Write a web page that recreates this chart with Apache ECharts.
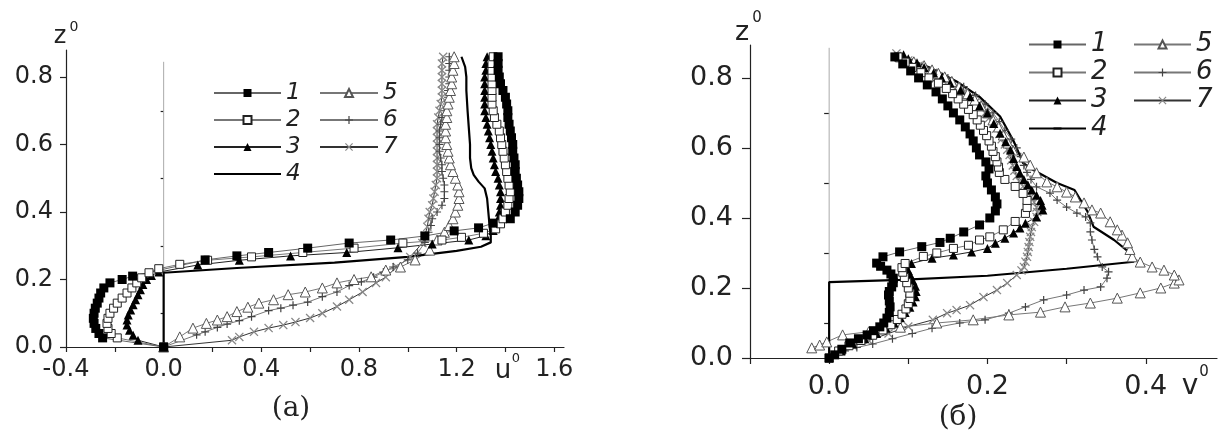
<!DOCTYPE html>
<html>
<head>
<meta charset="utf-8">
<script src="https://cdn.jsdelivr.net/npm/echarts@6.0.0/dist/echarts.min.js"></script>
<style>
html,body{margin:0;padding:0;background:#fff;}
#chart{width:1219px;height:437px;}
</style>
</head>
<body>
<div id="chart"></div>
<script>
/* панель (а): точки [u0, z0] */
var a1 = [[0,0],[-0.25,0.027],[-0.265,0.04],[-0.278,0.055],[-0.285,0.07],[-0.288,0.085],[-0.285,0.10],[-0.28,0.115],[-0.272,0.13],[-0.265,0.145],[-0.258,0.16],[-0.245,0.175],[-0.22,0.19],[-0.17,0.20],[-0.127,0.21],[0.17,0.258],[0.30,0.27],[0.43,0.28],[0.59,0.293],[0.76,0.308],[0.93,0.317],[1.07,0.329],[1.19,0.344],[1.29,0.353],[1.35,0.367],[1.42,0.38],[1.44,0.40],[1.45,0.42],[1.455,0.44],[1.455,0.46],[1.45,0.48],[1.445,0.50],[1.44,0.52],[1.44,0.54],[1.435,0.56],[1.43,0.58],[1.43,0.60],[1.425,0.62],[1.42,0.64],[1.415,0.66],[1.41,0.68],[1.41,0.70],[1.405,0.72],[1.40,0.74],[1.39,0.76],[1.38,0.78],[1.375,0.80],[1.37,0.82],[1.37,0.84],[1.37,0.86]];
var a2 = [[0,0],[-0.19,0.027],[-0.215,0.04],[-0.228,0.055],[-0.232,0.07],[-0.228,0.085],[-0.22,0.10],[-0.205,0.115],[-0.19,0.13],[-0.17,0.145],[-0.15,0.16],[-0.13,0.175],[-0.11,0.19],[-0.09,0.205],[-0.06,0.22],[-0.02,0.232],[0.066,0.245],[0.18,0.257],[0.36,0.267],[0.57,0.28],[0.78,0.293],[0.98,0.308],[1.14,0.317],[1.22,0.325],[1.31,0.337],[1.36,0.35],[1.38,0.365],[1.39,0.38],[1.40,0.40],[1.41,0.42],[1.415,0.44],[1.42,0.46],[1.415,0.48],[1.41,0.50],[1.405,0.52],[1.40,0.54],[1.395,0.56],[1.39,0.58],[1.385,0.60],[1.38,0.62],[1.375,0.64],[1.365,0.66],[1.355,0.68],[1.35,0.70],[1.345,0.72],[1.345,0.74],[1.345,0.76],[1.345,0.78],[1.345,0.80],[1.345,0.82],[1.345,0.84],[1.35,0.86]];
var a3 = [[0,0],[-0.105,0.02],[-0.125,0.035],[-0.14,0.05],[-0.15,0.065],[-0.15,0.08],[-0.145,0.095],[-0.135,0.11],[-0.125,0.125],[-0.115,0.14],[-0.105,0.155],[-0.095,0.17],[-0.085,0.185],[-0.07,0.20],[-0.05,0.212],[-0.02,0.222],[0.14,0.243],[0.31,0.257],[0.52,0.27],[0.75,0.28],[0.96,0.294],[1.10,0.305],[1.25,0.317],[1.32,0.33],[1.35,0.345],[1.36,0.36],[1.37,0.38],[1.375,0.40],[1.38,0.42],[1.38,0.44],[1.38,0.46],[1.375,0.48],[1.37,0.50],[1.36,0.52],[1.355,0.54],[1.35,0.56],[1.345,0.58],[1.34,0.60],[1.335,0.62],[1.33,0.64],[1.325,0.66],[1.32,0.68],[1.315,0.70],[1.315,0.72],[1.315,0.74],[1.315,0.76],[1.315,0.78],[1.315,0.80],[1.32,0.82],[1.32,0.84],[1.325,0.86]];
var a4 = [[0,0],[0,0.22],[0.3,0.234],[0.7,0.25],[1.0,0.267],[1.2,0.285],[1.3,0.297],[1.34,0.31],[1.34,0.33],[1.335,0.36],[1.33,0.40],[1.325,0.44],[1.315,0.47],[1.29,0.49],[1.27,0.51],[1.26,0.53],[1.255,0.56],[1.255,0.60],[1.25,0.65],[1.245,0.70],[1.24,0.76],[1.24,0.80],[1.235,0.83],[1.22,0.86]];
var a5 = [[0,0],[0.066,0.03],[0.12,0.056],[0.175,0.07],[0.22,0.08],[0.26,0.09],[0.30,0.105],[0.345,0.118],[0.39,0.13],[0.45,0.14],[0.51,0.155],[0.58,0.163],[0.65,0.175],[0.71,0.19],[0.78,0.20],[0.85,0.208],[0.91,0.228],[0.97,0.237],[1.03,0.258],[1.09,0.287],[1.12,0.317],[1.15,0.34],[1.17,0.36],[1.185,0.38],[1.195,0.40],[1.205,0.42],[1.21,0.44],[1.21,0.46],[1.205,0.48],[1.195,0.50],[1.185,0.52],[1.175,0.54],[1.17,0.56],[1.165,0.58],[1.16,0.60],[1.155,0.62],[1.155,0.64],[1.155,0.66],[1.16,0.68],[1.16,0.70],[1.165,0.72],[1.17,0.74],[1.175,0.76],[1.18,0.78],[1.18,0.80],[1.185,0.82],[1.19,0.84],[1.19,0.86]];
var a6 = [[0,0],[0.135,0.036],[0.17,0.045],[0.22,0.058],[0.26,0.068],[0.31,0.078],[0.36,0.09],[0.43,0.108],[0.48,0.115],[0.53,0.124],[0.59,0.133],[0.65,0.149],[0.71,0.163],[0.76,0.182],[0.81,0.193],[0.86,0.207],[0.90,0.222],[0.94,0.237],[1.0,0.258],[1.04,0.278],[1.07,0.31],[1.085,0.34],[1.095,0.36],[1.10,0.38],[1.12,0.40],[1.14,0.42],[1.15,0.44],[1.15,0.46],[1.15,0.48],[1.145,0.50],[1.14,0.52],[1.14,0.54],[1.135,0.56],[1.13,0.58],[1.13,0.60],[1.13,0.62],[1.13,0.64],[1.135,0.66],[1.14,0.68],[1.15,0.70],[1.16,0.72],[1.165,0.74],[1.165,0.76],[1.17,0.78],[1.17,0.80],[1.17,0.82],[1.17,0.84],[1.17,0.86]];
var a7 = [[0,0],[0.28,0.02],[0.31,0.03],[0.37,0.045],[0.43,0.056],[0.49,0.065],[0.54,0.074],[0.60,0.086],[0.65,0.10],[0.71,0.12],[0.76,0.14],[0.815,0.163],[0.87,0.19],[0.91,0.207],[0.955,0.237],[1.01,0.267],[1.06,0.308],[1.07,0.33],[1.08,0.356],[1.085,0.38],[1.09,0.40],[1.10,0.42],[1.105,0.44],[1.11,0.46],[1.115,0.48],[1.12,0.50],[1.12,0.52],[1.12,0.54],[1.12,0.56],[1.12,0.58],[1.12,0.60],[1.12,0.62],[1.12,0.64],[1.12,0.66],[1.125,0.68],[1.13,0.70],[1.135,0.72],[1.14,0.74],[1.14,0.76],[1.14,0.78],[1.14,0.80],[1.14,0.82],[1.14,0.84],[1.145,0.86]];

/* панель (б): точки [v0, z0] */
var b1 = [[0,0],[0.007,0.009],[0.016,0.025],[0.026,0.043],[0.037,0.055],[0.048,0.066],[0.056,0.078],[0.064,0.089],[0.069,0.10],[0.073,0.114],[0.076,0.13],[0.077,0.146],[0.076,0.163],[0.075,0.18],[0.076,0.19],[0.079,0.203],[0.081,0.215],[0.081,0.228],[0.078,0.24],[0.073,0.251],[0.065,0.262],[0.06,0.271],[0.068,0.289],[0.089,0.303],[0.117,0.318],[0.14,0.33],[0.153,0.342],[0.17,0.36],[0.19,0.38],[0.203,0.40],[0.21,0.42],[0.212,0.44],[0.21,0.46],[0.205,0.48],[0.2,0.50],[0.198,0.52],[0.202,0.54],[0.198,0.56],[0.19,0.58],[0.186,0.60],[0.182,0.62],[0.178,0.64],[0.172,0.66],[0.165,0.68],[0.157,0.70],[0.15,0.72],[0.143,0.74],[0.135,0.76],[0.124,0.78],[0.113,0.80],[0.103,0.82],[0.093,0.84],[0.083,0.86]];
var b2 = [[0,0],[0.012,0.02],[0.025,0.035],[0.04,0.05],[0.055,0.065],[0.068,0.08],[0.078,0.095],[0.086,0.11],[0.092,0.125],[0.097,0.14],[0.10,0.155],[0.102,0.17],[0.102,0.185],[0.10,0.20],[0.098,0.215],[0.095,0.23],[0.093,0.245],[0.092,0.258],[0.096,0.27],[0.119,0.29],[0.136,0.30],[0.157,0.313],[0.176,0.322],[0.19,0.337],[0.203,0.346],[0.22,0.366],[0.235,0.39],[0.248,0.413],[0.25,0.43],[0.25,0.45],[0.245,0.47],[0.235,0.49],[0.222,0.51],[0.215,0.53],[0.214,0.545],[0.212,0.56],[0.21,0.575],[0.207,0.59],[0.205,0.605],[0.202,0.62],[0.199,0.635],[0.195,0.65],[0.191,0.665],[0.187,0.68],[0.182,0.695],[0.176,0.71],[0.17,0.725],[0.163,0.74],[0.156,0.755],[0.148,0.77],[0.138,0.785],[0.126,0.80],[0.116,0.815],[0.105,0.83],[0.096,0.845],[0.087,0.86]];
var b3 = [[0,0],[0.015,0.02],[0.03,0.04],[0.045,0.055],[0.06,0.07],[0.072,0.085],[0.082,0.10],[0.09,0.115],[0.096,0.13],[0.102,0.145],[0.106,0.16],[0.109,0.175],[0.11,0.19],[0.109,0.205],[0.106,0.22],[0.103,0.235],[0.10,0.25],[0.104,0.27],[0.13,0.285],[0.157,0.294],[0.18,0.303],[0.20,0.313],[0.21,0.328],[0.222,0.342],[0.233,0.357],[0.241,0.371],[0.248,0.385],[0.262,0.403],[0.27,0.423],[0.269,0.436],[0.267,0.45],[0.262,0.465],[0.256,0.48],[0.251,0.495],[0.246,0.51],[0.241,0.528],[0.237,0.547],[0.233,0.57],[0.229,0.594],[0.223,0.618],[0.216,0.642],[0.208,0.67],[0.2,0.70],[0.19,0.72],[0.178,0.746],[0.166,0.765],[0.153,0.785],[0.142,0.80],[0.132,0.814],[0.12,0.83],[0.111,0.843],[0.10,0.855],[0.094,0.866]];
var b4 = [[0,0],[0,0.217],[0.09,0.223],[0.2,0.235],[0.3,0.255],[0.385,0.275],[0.38,0.30],[0.36,0.337],[0.334,0.375],[0.326,0.42],[0.31,0.48],[0.288,0.50],[0.258,0.537],[0.245,0.557],[0.233,0.62],[0.216,0.69],[0.19,0.746],[0.161,0.79],[0.127,0.83],[0.093,0.86]];
var b5 = [[-0.022,0.029],[-0.012,0.037],[-0.003,0.046],[0.017,0.066],[0.05,0.075],[0.09,0.088],[0.136,0.10],[0.182,0.109],[0.227,0.123],[0.267,0.131],[0.298,0.146],[0.33,0.157],[0.364,0.171],[0.393,0.186],[0.419,0.20],[0.436,0.214],[0.442,0.223],[0.436,0.237],[0.423,0.251],[0.408,0.26],[0.393,0.274],[0.383,0.289],[0.38,0.31],[0.377,0.329],[0.37,0.351],[0.364,0.366],[0.355,0.389],[0.343,0.414],[0.332,0.423],[0.322,0.443],[0.311,0.46],[0.30,0.474],[0.288,0.489],[0.275,0.503],[0.262,0.529],[0.254,0.551],[0.246,0.574],[0.232,0.594],[0.226,0.614],[0.22,0.637],[0.214,0.66],[0.207,0.68],[0.2,0.70],[0.192,0.72],[0.184,0.737],[0.175,0.755],[0.164,0.774],[0.155,0.79],[0.146,0.803],[0.138,0.813],[0.13,0.823],[0.12,0.835],[0.107,0.846],[0.09,0.86]];
var b6 = [[0,0],[0.02,0.02],[0.035,0.03],[0.055,0.04],[0.08,0.055],[0.105,0.07],[0.13,0.085],[0.165,0.10],[0.197,0.109],[0.227,0.128],[0.248,0.146],[0.271,0.166],[0.3,0.18],[0.322,0.194],[0.343,0.203],[0.351,0.228],[0.353,0.246],[0.345,0.26],[0.339,0.289],[0.335,0.31],[0.332,0.337],[0.33,0.36],[0.33,0.386],[0.324,0.403],[0.313,0.414],[0.3,0.431],[0.288,0.451],[0.279,0.471],[0.262,0.489],[0.255,0.51],[0.25,0.53],[0.246,0.55],[0.242,0.575],[0.237,0.60],[0.23,0.625],[0.222,0.65],[0.215,0.675],[0.207,0.70],[0.197,0.725],[0.185,0.75],[0.17,0.775],[0.15,0.80],[0.136,0.815],[0.122,0.83],[0.105,0.845],[0.09,0.86]];
var b7 = [[0,0],[0.015,0.02],[0.03,0.035],[0.05,0.05],[0.075,0.07],[0.1,0.09],[0.131,0.109],[0.149,0.128],[0.161,0.137],[0.178,0.151],[0.195,0.174],[0.212,0.194],[0.225,0.214],[0.237,0.237],[0.243,0.25],[0.246,0.26],[0.248,0.275],[0.25,0.289],[0.251,0.303],[0.252,0.317],[0.253,0.331],[0.254,0.346],[0.255,0.36],[0.256,0.374],[0.259,0.389],[0.262,0.403],[0.263,0.417],[0.262,0.43],[0.259,0.445],[0.255,0.46],[0.25,0.475],[0.245,0.49],[0.24,0.505],[0.237,0.52],[0.234,0.535],[0.232,0.55],[0.23,0.565],[0.228,0.58],[0.225,0.595],[0.222,0.61],[0.218,0.625],[0.215,0.64],[0.211,0.655],[0.207,0.67],[0.202,0.685],[0.197,0.70],[0.191,0.715],[0.185,0.73],[0.178,0.745],[0.17,0.76],[0.161,0.775],[0.15,0.79],[0.138,0.805],[0.125,0.82],[0.113,0.835],[0.1,0.85],[0.085,0.87]];

/* тонкая линия нуля */
var zeroA = [[0,0],[0,0.845]];
var zeroB = [[0,0],[0,0.886]];

/* деления осей */
var xTicksA = [-0.4,-0.2,0,0.2,0.4,0.6,0.8,1.0,1.2,1.4,1.6];
var xLabelsA = [-0.4,0,0.4,0.8,1.2,1.6];
var yMajor = [0,0.2,0.4,0.6,0.8];
var yMinor = [0.1,0.3,0.5,0.7];
var xTicksB = [-0.1,0,0.1,0.2,0.3,0.4];
var xLabelsB = [0,0.2,0.4];

var PLUS = 'path://M3.4,0h1.2v3.4h3.4v1.2h-3.4v3.4h-1.2v-3.4h-3.4v-1.2h3.4z';
var CROSS = 'path://M0,0.8L0.8,0L4,3.2L7.2,0L8,0.8L4.8,4L8,7.2L7.2,8L4,4.8L0.8,8L0,7.2L3.2,4Z';

var looks = {
    '1': {symbol:'rect', size:9, fill:'#000', border:'#000', bw:0, line:'#666', lw:1},
    '2': {symbol:'rect', size:8, fill:'#fff', border:'#222', bw:1, line:'#777', lw:1},
    '3': {symbol:'triangle', size:9, fill:'#000', border:'#000', bw:0, line:'#222', lw:1},
    '4': {symbol:'line', size:8, fill:'#000', border:'#000', bw:2.2, line:'#000', lw:2.2, hide:true},
    '5': {symbol:'triangle', size:10, fill:'#fff', border:'#555', bw:1, line:'#777', lw:1},
    '6': {symbol:PLUS, size:8, fill:'#444', border:'#444', bw:0, line:'#777', lw:1},
    '7': {symbol:CROSS, size:9, fill:'#888', border:'#888', bw:0, line:'#333', lw:1}
};

function curve(name, data, xi, yi){
    var s = looks[name];
    return {
        name: name, type: 'line', data: data,
        xAxisIndex: xi, yAxisIndex: yi,
        symbol: s.symbol, symbolSize: s.size, showSymbol: !s.hide,
        itemStyle: {color: s.fill, borderColor: s.border, borderWidth: s.bw},
        lineStyle: {color: s.line, width: s.lw},
        emphasis: {disabled: true},
        silent: true
    };
}

function zeroLine(data, xi, yi){
    return {name: 'zero', type: 'line', data: data, xAxisIndex: xi, yAxisIndex: yi,
        symbol: 'none', lineStyle: {color: '#aaa', width: 1}, silent: true};
}

function fmt(v){ return v.toFixed(1); }

function xAxisOf(g, min, max, ticks, labels, fs, margin, tl){
    return {type: 'value', gridIndex: g, min: min, max: max, position: 'bottom',
        axisLine: {show: true, onZero: false, lineStyle: {color: '#222', width: 1.2}},
        axisTick: {show: true, length: tl, customValues: ticks, lineStyle: {color: '#222', width: 1.2}},
        axisLabel: {show: true, customValues: labels, formatter: fmt, margin: margin,
            color: '#222', fontFamily: 'DejaVu Sans', fontSize: fs},
        splitLine: {show: false}};
}

function yAxisOf(g, max, fs, margin, tl){
    return {type: 'value', gridIndex: g, min: 0, max: max, position: 'left',
        axisLine: {show: true, onZero: false, lineStyle: {color: '#222', width: 1.2}},
        axisTick: {show: true, length: tl, customValues: yMajor, lineStyle: {color: '#222', width: 1.2}},
        axisLabel: {show: true, customValues: yMajor, formatter: fmt, margin: margin,
            color: '#222', fontFamily: 'DejaVu Sans', fontSize: fs},
        splitLine: {show: false}};
}

function yMinorOf(g, max, tl){
    return {type: 'value', gridIndex: g, min: 0, max: max, position: 'left',
        axisLine: {show: false},
        axisTick: {show: true, length: tl, customValues: yMinor, lineStyle: {color: '#222', width: 1.2}},
        axisLabel: {show: false},
        splitLine: {show: false}};
}

function legendOf(names, left, top, iw, fs, lh){
    return {data: names, orient: 'vertical', left: left, top: top, padding: 0,
        itemWidth: iw, itemHeight: 10, itemGap: 1, selectedMode: false,
        textStyle: {fontFamily: 'DejaVu Sans', fontStyle: 'italic', fontSize: fs, color: '#222', lineHeight: lh}};
}

function txt(s, x, y, fs, family){
    return {type: 'text', x: x, y: y, silent: true,
        style: {text: s, fontSize: fs, fontFamily: family || 'DejaVu Sans', fill: '#222',
            align: 'center', verticalAlign: 'middle'}};
}

var order = ['7','6','5','3','2','1','4'];
var dataA = {'1': a1, '2': a2, '3': a3, '4': a4, '5': a5, '6': a6, '7': a7};
var dataB = {'1': b1, '2': b2, '3': b3, '4': b4, '5': b5, '6': b6, '7': b7};

var series = [zeroLine(zeroA, 0, 0), zeroLine(zeroB, 1, 2)];
order.forEach(function(n){ series.push(curve(n, dataA[n], 0, 0)); });
order.forEach(function(n){ series.push(curve(n, dataB[n], 1, 2)); });

var chart = echarts.init(document.getElementById('chart'));
var option = {
    animation: false,
    backgroundColor: '#fff',
    grid: [
        {left: 66, top: 50, width: 498, height: 297, containLabel: false, outerBoundsMode: 'none'},
        {left: 750, top: 45, width: 467, height: 313, containLabel: false, outerBoundsMode: 'none'}
    ],
    xAxis: [
        xAxisOf(0, -0.4, 1.64, xTicksA, xLabelsA, 24, 11, 5),
        xAxisOf(1, -0.1, 0.49, xTicksB, xLabelsB, 27, 15, 6)
    ],
    yAxis: [
        yAxisOf(0, 0.88, 24, 13, 6),
        yMinorOf(0, 0.88, 3),
        yAxisOf(1, 0.894, 27, 17, 8),
        yMinorOf(1, 0.894, 5)
    ],
    legend: [
        legendOf(['1','2','3','4'], 213, 80, 67, 23, 26),
        legendOf(['5','6','7'], 319, 80, 58, 23, 26),
        legendOf(['1','2','3','4'], 1028, 31, 57, 26, 27),
        legendOf(['5','6','7'], 1133, 31, 57, 26, 27)
    ],
    graphic: [
        txt('z', 60, 37, 24), txt('0', 74, 27, 14),
        txt('u', 503, 371, 26), txt('0', 516, 359, 13),
        txt('(a)', 291, 409, 28, 'DejaVu Serif'),
        txt('z', 742, 33, 27), txt('0', 757, 18, 15),
        txt('v', 1190, 387, 28), txt('0', 1204, 372, 15),
        txt('(б)', 958, 418, 28, 'DejaVu Serif')
    ],
    series: series
};
chart.setOption(option);
</script>
</body>
</html>
